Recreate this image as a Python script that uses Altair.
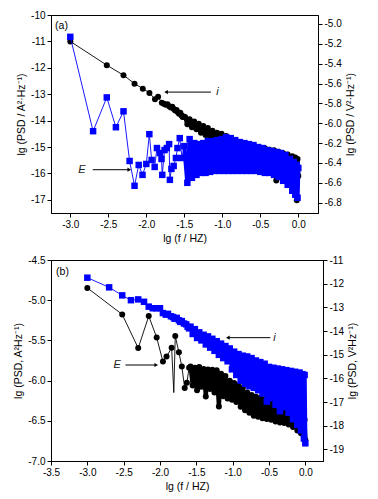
import altair as alt
import pandas as pd

# ---------------- data (lg f, lg PSD) ----------------
DENSE_X = [-1.49, -1.46, -1.43, -1.40, -1.37, -1.34, -1.31, -1.28, -1.25, -1.22,
           -1.19, -1.16, -1.13, -1.10, -1.07, -1.04, -1.01, -0.98, -0.95, -0.92,
           -0.89, -0.86, -0.83, -0.80, -0.77, -0.74, -0.71, -0.68, -0.65, -0.62,
           -0.59, -0.56, -0.53, -0.50, -0.47, -0.44, -0.41, -0.38, -0.35, -0.32,
           -0.29, -0.26, -0.23, -0.20, -0.17, -0.14, -0.11, -0.08, -0.06, -0.04,
           -0.02, -0.01, 0.00]
DENSE_X_B = [-1.58, -1.55, -1.52] + DENSE_X

# panel (a): i (black, left axis A^2/Hz)
A_I_SPARSE_X = [-3.00, -2.52, -2.30, -2.155, -2.046, -1.959, -1.886, -1.845, -1.796, -1.770,
                -1.745, -1.721, -1.699, -1.678, -1.658, -1.638, -1.620, -1.602, -1.585, -1.569,
                -1.553, -1.538, -1.523, -1.509]
A_I_SPARSE_Y = [-11.00, -11.90, -12.28, -12.60, -12.79, -12.95, -13.19, -13.10, -13.32, -13.36,
                -13.40, -13.38, -13.46, -13.50, -13.48, -13.56, -13.62, -13.60, -13.68, -13.74,
                -13.70, -13.80, -13.86, -13.84]
A_I_DENSE_Y = [-13.86, -14.14, -13.95, -14.25, -14.03, -14.33, -14.12, -14.46, -14.20, -14.55,
               -14.28, -14.65, -14.38, -14.80, -14.46, -14.85, -14.50, -14.92, -14.58, -14.98,
               -14.66, -15.03, -14.74, -15.10, -14.82, -15.14, -14.88, -15.20, -14.93, -15.28,
               -14.97, -15.32, -15.92, -15.03, -15.40, -15.05, -15.45, -15.10, -15.92, -15.12,
               -16.27, -15.18, -15.55, -15.24, -15.62, -15.28, -15.72, -15.35, -15.85, -15.40,
               -17.02, -15.45, -16.10]

# panel (a): E (blue, right axis V^2/Hz)
A_E_SPARSE_X = [-3.00, -2.70, -2.52, -2.40, -2.30, -2.22, -2.155, -2.10, -2.05, -2.00,
                -1.96, -1.93, -1.89, -1.86, -1.82, -1.80, -1.79, -1.76, -1.73, -1.70,
                -1.69, -1.67, -1.64, -1.61, -1.59, -1.56, -1.53, -1.50]
A_E_SPARSE_Y = [-5.13, -6.08, -5.74, -6.04, -5.88, -6.38, -6.63, -6.42, -6.52, -6.41,
                -6.11, -6.37, -6.44, -6.25, -6.30, -6.36, -6.52, -6.27, -6.25, -6.21,
                -6.57, -6.46, -6.43, -6.35, -6.25, -6.15, -6.35, -6.23]
A_E_DENSE_Y = [-6.60, -6.16, -6.55, -6.20, -6.52, -6.21, -6.50, -6.20, -6.50, -6.18,
               -6.49, -6.18, -6.48, -6.17, -6.48, -6.16, -6.48, -6.14, -6.48, -6.15,
               -6.48, -6.17, -6.48, -6.19, -6.48, -6.20, -6.48, -6.21, -6.48, -6.22,
               -6.48, -6.24, -6.49, -6.25, -6.50, -6.27, -6.50, -6.28, -6.52, -6.29,
               -6.54, -6.30, -6.58, -6.32, -6.62, -6.36, -6.68, -6.39, -6.72, -6.42,
               -6.75, -6.45]

# panel (b): i (blue, left axis A^2/Hz)
B_I_SPARSE_X = [-3.00, -2.70, -2.52, -2.40, -2.30, -2.22, -2.155, -2.10, -2.05, -2.00,
                -1.96, -1.92, -1.89, -1.85, -1.82, -1.80, -1.77, -1.74, -1.72, -1.70,
                -1.67, -1.64, -1.62, -1.60]
B_I_SPARSE_Y = [-4.72, -4.84, -4.94, -5.00, -4.99, -5.02, -5.08, -5.10, -5.10, -5.10,
                -5.16, -5.18, -5.17, -5.20, -5.21, -5.23, -5.22, -5.25, -5.27, -5.26,
                -5.29, -5.30, -5.33, -5.35]
B_I_DENSE_Y = [-5.33, -5.42, -5.36, -5.47, -5.40, -5.50, -5.43, -5.55, -5.45, -5.59,
               -5.48, -5.63, -5.51, -5.68, -5.54, -5.72, -5.57, -5.76, -5.60, -5.86,
               -5.64, -5.93, -5.67, -6.00, -5.69, -6.04, -5.70, -6.07, -5.72, -6.09,
               -5.75, -6.12, -5.77, -6.16, -5.79, -6.26, -5.83, -6.22, -5.84, -6.30,
               -5.85, -6.38, -5.86, -6.33, -5.87, -6.40, -5.88, -6.48, -5.89, -6.55,
               -5.90, -6.62, -5.92, -6.72, -5.93, -6.78]

# panel (b): E (black, right axis V^2/Hz); SYM = 0 marks line-only points
B_E_SPARSE_X = [-3.00, -2.52, -2.30, -2.155, -2.046, -1.96, -1.91, -1.84, -1.81, -1.79,
                -1.74, -1.70, -1.66, -1.63, -1.60]
B_E_SPARSE_Y = [-12.18, -13.30, -14.72, -13.37, -14.27, -15.29, -15.08, -14.71, -16.60, -14.21,
                -14.90, -15.50, -16.41, -16.19, -15.55]
B_E_SPARSE_SYM = [1, 1, 1, 1, 1, 1, 1, 1, 0, 1, 1, 1, 1, 1, 1]
B_E_DENSE_Y = [-15.50, -16.30, -15.55, -16.50, -15.52, -16.35, -15.60, -16.77, -15.62, -16.45,
               -15.64, -16.60, -15.66, -17.19, -15.80, -16.75, -15.90, -16.85, -16.10, -16.90,
               -16.20, -17.00, -16.28, -17.20, -16.40, -17.35, -16.60, -17.45, -16.70, -17.58,
               -16.78, -17.62, -16.83, -17.68, -16.88, -17.72, -16.95, -17.75, -17.05, -17.82,
               -17.12, -17.86, -17.20, -17.89, -17.28, -17.95, -17.42, -18.05, -17.55, -18.20,
               -17.62, -18.32, -17.70, -18.45, -17.75, -18.60]

# axis ticks
A_XTICKS = [-3.0, -2.5, -2.0, -1.5, -1.0, -0.5, 0.0]
A_LTICKS = [-17, -16, -15, -14, -13, -12, -11, -10]
A_RTICKS = [-6.8, -6.6, -6.4, -6.2, -6.0, -5.8, -5.6, -5.4, -5.2, -5.0]
B_XTICKS = [-3.5, -3.0, -2.5, -2.0, -1.5, -1.0, -0.5, 0.0]
B_LTICKS = [-7.0, -6.5, -6.0, -5.5, -5.0, -4.5]
B_RTICKS = [-19, -18, -17, -16, -15, -14, -13, -12, -11]

# annotations (arrow from x1 to x2 at y, label at tx)
A_ANN_I = dict(x1=-1.74, x2=-1.15, y=-12.92, tx=-1.08, head="left", label="i")
A_ANN_E = dict(x1=-2.705, x2=-2.224, y=-15.86, tx=-2.80, head="right", label="E")
B_ANN_E = dict(x1=-2.475, x2=-2.052, y=-5.806, tx=-2.54, head="right", label="E")
B_ANN_I = dict(x1=-1.066, x2=-0.482, y=-5.466, tx=-0.44, head="left", label="i")

BLUE = "#0000ff"
BLACK = "#000000"
FONT = "Liberation Sans"


def fmt_expr(f):
    return "replace(format(datum.value, '" + f + "'), '\u2212', '-')"


def series_layers(sx, sy, dx, dy, color, shape, size, xenc, yenc, ssym=None):
    xs = list(sx) + list(dx)
    ys = list(sy) + list(dy)
    sym = (list(ssym) if ssym is not None else [1] * len(sx)) + [1] * len(dx)
    df = pd.DataFrame({"x": xs, "y": ys, "o": list(range(len(xs))), "s": sym})
    n = len(sx)
    sparse = alt.Chart(df.iloc[:n]).mark_line(color=color, strokeWidth=0.9).encode(
        x=xenc, y=yenc, order="o:Q")
    dense = alt.Chart(df.iloc[n - 1:]).mark_line(
        color=color, strokeWidth=4.2, strokeJoin="round").encode(
        x=xenc, y=yenc, order="o:Q")
    pts = alt.Chart(df).mark_point(filled=True, shape=shape, size=size, color=color,
                                   opacity=1, strokeWidth=0).transform_filter(
        "datum.s == 1").encode(x=xenc, y=yenc)
    return [sparse, dense, pts]


def annotation_layers(ann, xscale, yscale):
    df = pd.DataFrame([ann])
    base = alt.Chart(df)
    rule = base.mark_rule(color=BLACK, strokeWidth=1).encode(
        x=alt.X("x1:Q", scale=xscale), x2="x2:Q",
        y=alt.Y("y:Q", scale=yscale))
    hx = "x1" if ann["head"] == "left" else "x2"
    head = base.mark_point(shape="triangle-" + ann["head"], filled=True, size=18,
                           color=BLACK, opacity=1, strokeWidth=0).encode(
        x=alt.X(hx + ":Q", scale=xscale), y=alt.Y("y:Q", scale=yscale))
    align = "left" if ann["head"] == "left" else "right"
    txt = base.mark_text(font=FONT, fontSize=11, fontStyle="italic", align=align,
                         baseline="middle", color="#222222").encode(
        x=alt.X("tx:Q", scale=xscale), y=alt.Y("y:Q", scale=yscale),
        text="label:N")
    return [rule, head, txt]


def axis(values, f, title, **kw):
    return alt.Axis(values=values, labelExpr=fmt_expr(f), title=title, tickCount=40,
                    labelOverlap=False, labelFlush=False, **kw)


def panel(tag, tag_xy, xdom, xticks, ldom, lticks, lfmt, ltitle,
          rdom, rticks, rfmt, rtitle, left_series, right_series, anns, w, h,
          right_first=False):
    xscale = alt.Scale(domain=xdom, nice=False, zero=False)
    xenc = alt.X("x:Q", scale=xscale, axis=axis(xticks, ".1f", "lg (f / HZ)"))
    lscale = alt.Scale(domain=ldom, nice=False, zero=False)
    rscale = alt.Scale(domain=rdom, nice=False, zero=False)
    lenc = alt.Y("y:Q", scale=lscale, axis=axis(lticks, lfmt, ltitle, orient="left"))
    renc = alt.Y("y:Q", scale=rscale,
                 axis=axis(rticks, rfmt, rtitle, orient="right", titleAngle=270,
                           titleBaseline="top"))
    left_layers = []
    for s in left_series:
        left_layers += series_layers(*s[:7], xenc, lenc, s[7] if len(s) > 7 else None)
    for a in anns:
        left_layers += annotation_layers(a, xscale, lscale)
    tag_df = pd.DataFrame({"x": [tag_xy[0]], "y": [tag_xy[1]], "t": [tag]})
    left_layers.append(alt.Chart(tag_df).mark_text(
        font=FONT, fontSize=10.5, align="left", baseline="middle", color=BLACK).encode(
        x=alt.X("x:Q", scale=xscale), y=alt.Y("y:Q", scale=lscale), text="t:N"))
    right_layers = []
    for s in right_series:
        right_layers += series_layers(*s[:7], xenc, renc, s[7] if len(s) > 7 else None)
    L = alt.layer(*left_layers)
    R = alt.layer(*right_layers)
    parts = (R, L) if right_first else (L, R)
    return alt.layer(*parts).resolve_scale(y="independent").properties(width=w, height=h)


top = panel("(a)", (-3.20, -10.42), [-3.254, 0.259], A_XTICKS,
            [-17.5, -10.0], A_LTICKS, ".0f", "lg (PSD / A\u00b2\u00b7Hz\u207b\u00b9)",
            [-6.904, -4.91], A_RTICKS, ".1f", "lg (PSD / V\u00b2\u00b7Hz\u207b\u00b9)",
            [(A_I_SPARSE_X, A_I_SPARSE_Y, DENSE_X, A_I_DENSE_Y, BLACK, "circle", 36)],
            [(A_E_SPARSE_X, A_E_SPARSE_Y, DENSE_X[1:], A_E_DENSE_Y, BLUE, "square", 42)],
            [A_ANN_I, A_ANN_E], 267, 198)

bottom = panel("(b)", (-3.43, -4.65), [-3.5, 0.243], B_XTICKS,
               [-7.0, -4.5], B_LTICKS, ".1f", "lg (PSD, A\u00b2Hz\u207b\u00b9)",
               [-19.49, -11.0], B_RTICKS, ".0f", "lg (PSD, V\u00b2Hz\u207b\u00b9)",
               [(B_I_SPARSE_X, B_I_SPARSE_Y, DENSE_X_B, B_I_DENSE_Y, BLUE, "square", 42)],
               [(B_E_SPARSE_X, B_E_SPARSE_Y, DENSE_X_B, B_E_DENSE_Y, BLACK, "circle", 36,
                 B_E_SPARSE_SYM)],
               [B_ANN_E, B_ANN_I], 272, 201, right_first=True)

chart = alt.vconcat(top, bottom, spacing=10).configure(
    font=FONT, padding={"left": 5, "right": 5, "top": 1, "bottom": 2}
).configure_view(stroke=BLACK, strokeWidth=1).configure_axis(
    grid=False, domainColor=BLACK, tickColor=BLACK, labelColor=BLACK,
    titleColor=BLACK, labelFont=FONT, titleFont=FONT, labelFontSize=10,
    titleFontSize=10.5, titleFontWeight="normal", tickSize=4, labelPadding=2,
    domainWidth=1, tickWidth=1, titlePadding=4)

chart.save("out.html", embed_options={"renderer": "svg", "actions": False})
